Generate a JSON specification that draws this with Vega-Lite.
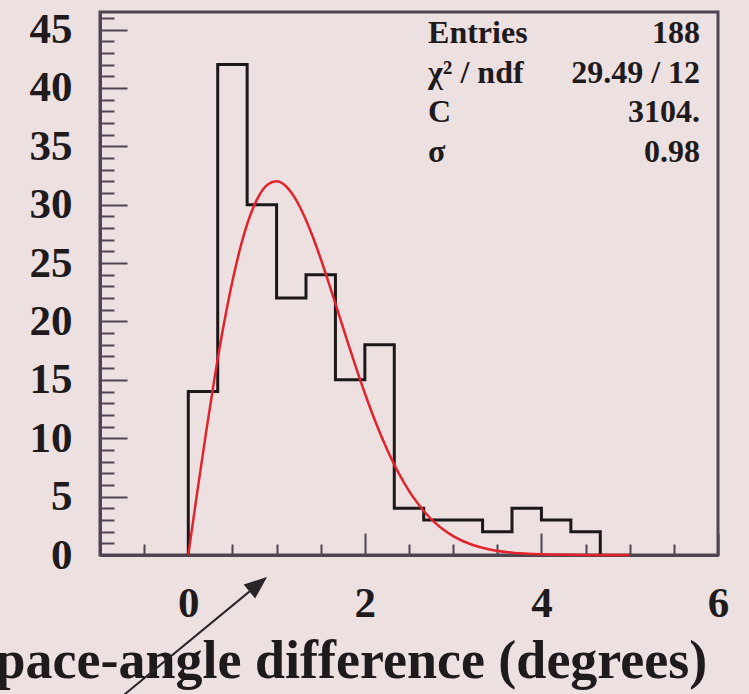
{
  "$schema": "https://vega.github.io/schema/vega-lite/v6.json",
  "width": 618,
  "height": 543,
  "autosize": {"type": "none"},
  "padding": {"left": 100, "top": 12, "right": 31, "bottom": 139},
  "background": "#ede0e1",
  "config": {
    "view": {"stroke": "#4f4550", "strokeWidth": 3},
    "axis": {
      "grid": false,
      "domainColor": "#4f4550",
      "domainWidth": 3,
      "tickColor": "#4f4550",
      "tickWidth": 2,
      "labelFont": "Liberation Serif",
      "labelFontWeight": "bold",
      "labelFontSize": 43,
      "labelColor": "#1f1a1c",
      "labelFlush": false,
      "labelOverlap": false,
      "labelBound": false,
      "titleFont": "Liberation Serif",
      "titleFontWeight": "bold",
      "titleColor": "#1f1a1c"
    }
  },
  "datasets": {
    "hist": [
      {"i": 0, "edge": 0, "count": 0},
      {"i": 1, "edge": 0, "count": 14},
      {"i": 2, "edge": 0.3333, "count": 42},
      {"i": 3, "edge": 0.6667, "count": 30},
      {"i": 4, "edge": 1.0, "count": 22},
      {"i": 5, "edge": 1.3333, "count": 24},
      {"i": 6, "edge": 1.6667, "count": 15},
      {"i": 7, "edge": 2.0, "count": 18},
      {"i": 8, "edge": 2.3333, "count": 4},
      {"i": 9, "edge": 2.6667, "count": 3},
      {"i": 10, "edge": 3.0, "count": 3},
      {"i": 11, "edge": 3.3333, "count": 2},
      {"i": 12, "edge": 3.6667, "count": 4},
      {"i": 13, "edge": 4.0, "count": 3},
      {"i": 14, "edge": 4.3333, "count": 2},
      {"i": 15, "edge": 4.6667, "count": 2},
      {"i": 16, "edge": 4.6667, "count": 0}
    ],
    "fit": [
      {"x": 0, "f": 0},
      {"x": 0.05, "f": 2.66},
      {"x": 0.1, "f": 5.3},
      {"x": 0.2, "f": 10.44},
      {"x": 0.3, "f": 15.27},
      {"x": 0.4, "f": 19.65},
      {"x": 0.5, "f": 23.45},
      {"x": 0.6, "f": 26.61},
      {"x": 0.7, "f": 29.05},
      {"x": 0.8, "f": 30.76},
      {"x": 0.9, "f": 31.73},
      {"x": 1.0, "f": 32.0},
      {"x": 1.1, "f": 31.62},
      {"x": 1.2, "f": 30.67},
      {"x": 1.3, "f": 29.25},
      {"x": 1.4, "f": 27.45},
      {"x": 1.5, "f": 25.37},
      {"x": 1.6, "f": 23.1},
      {"x": 1.7, "f": 20.74},
      {"x": 1.8, "f": 18.36},
      {"x": 1.9, "f": 16.05},
      {"x": 2.0, "f": 13.85},
      {"x": 2.1, "f": 11.8},
      {"x": 2.2, "f": 9.93},
      {"x": 2.3, "f": 8.25},
      {"x": 2.4, "f": 6.77},
      {"x": 2.5, "f": 5.49},
      {"x": 2.6, "f": 4.4},
      {"x": 2.7, "f": 3.49},
      {"x": 2.8, "f": 2.73},
      {"x": 2.9, "f": 2.12},
      {"x": 3.0, "f": 1.62},
      {"x": 3.2, "f": 0.92},
      {"x": 3.4, "f": 0.5},
      {"x": 3.6, "f": 0.26},
      {"x": 3.8, "f": 0.13},
      {"x": 4.0, "f": 0.06},
      {"x": 4.5, "f": 0.01},
      {"x": 5.0, "f": 0.0}
    ],
    "arrow": [
      {"x": -0.78, "y": -12.3, "xEnd": 0.787, "yEnd": -2.54}
    ],
    "stats": [
      {"row": 0, "name": "Entries", "value": "188"},
      {"row": 1, "name": "χ² / ndf", "value": "29.49 / 12"},
      {"row": 2, "name": "C", "value": "3104."},
      {"row": 3, "name": "σ", "value": "0.98"}
    ]
  },
  "layer": [
    {
      "layer": [
        {
          "data": {"name": "hist"},
          "mark": {"type": "line", "interpolate": "step-after", "color": "#1c1719", "strokeWidth": 3},
          "encoding": {
            "x": {
              "field": "edge", "type": "quantitative",
              "scale": {"domain": [-1, 6], "nice": false, "zero": false},
              "axis": {
                "orient": "bottom",
                "values": [0, 2, 4, 6],
                "tickSize": -22,
                "labelPadding": 83,
                "labelBaseline": "alphabetic",
                "title": "space-angle difference (degrees)",
                "titleFontSize": 54,
                "titleAlign": "left",
                "titleBaseline": "alphabetic",
                "titleX": -126,
                "titleY": 122
              }
            },
            "y": {
              "field": "count", "type": "quantitative",
              "scale": {"domain": [0, 46.5], "nice": false, "zero": false},
              "axis": {
                "orient": "left",
                "values": [0, 5, 10, 15, 20, 25, 30, 35, 40, 45],
                "tickSize": -27,
                "labelPadding": 55,
                "labelBaseline": "middle",
                "title": null
              }
            },
            "order": {"field": "i", "type": "quantitative"}
          }
        },
        {
          "data": {"name": "fit"},
          "mark": {"type": "line", "interpolate": "monotone", "color": "#e3232b", "strokeWidth": 2.5},
          "encoding": {
            "x": {
              "field": "x", "type": "quantitative",
              "scale": {"domain": [-1, 6], "nice": false, "zero": false},
              "axis": {
                "orient": "bottom",
                "values": [-0.5, 0.5, 1, 1.5, 2.5, 3, 3.5, 4.5, 5, 5.5],
                "tickSize": -11,
                "labels": false,
                "domain": false,
                "title": null
              }
            },
            "y": {
              "field": "f", "type": "quantitative",
              "scale": {"domain": [0, 46.5], "nice": false, "zero": false},
              "axis": {
                "orient": "left",
                "values": [1, 2, 3, 4, 6, 7, 8, 9, 11, 12, 13, 14, 16, 17, 18, 19, 21, 22, 23, 24, 26, 27, 28, 29, 31, 32, 33, 34, 36, 37, 38, 39, 41, 42, 43, 44, 46],
                "tickSize": -14,
                "labels": false,
                "domain": false,
                "title": null
              }
            }
          }
        },
        {
          "data": {"name": "arrow"},
          "mark": {"type": "rule", "color": "#2a2428", "strokeWidth": 2},
          "encoding": {
            "x": {"field": "x", "type": "quantitative", "scale": {"domain": [-1, 6], "nice": false, "zero": false}, "axis": null},
            "y": {"field": "y", "type": "quantitative", "scale": {"domain": [0, 46.5], "nice": false, "zero": false}, "axis": null},
            "x2": {"field": "xEnd"},
            "y2": {"field": "yEnd"}
          }
        },
        {
          "data": {"name": "arrow"},
          "mark": {"type": "point", "shape": "M0,-1L0.75,0.9L-0.75,0.9Z", "filled": true, "opacity": 1, "color": "#2a2428", "size": 576, "angle": 50.5},
          "encoding": {
            "x": {"field": "xEnd", "type": "quantitative", "scale": {"domain": [-1, 6], "nice": false, "zero": false}, "axis": null},
            "y": {"field": "yEnd", "type": "quantitative", "scale": {"domain": [0, 46.5], "nice": false, "zero": false}, "axis": null}
          }
        }
      ],
      "resolve": {"axis": {"x": "independent", "y": "independent"}}
    },
    {
      "data": {"name": "stats"},
      "layer": [
        {
          "mark": {"type": "text", "align": "left", "baseline": "alphabetic", "font": "Liberation Serif", "fontWeight": "bold", "fontSize": 32, "color": "#1f1a1c"},
          "encoding": {
            "x": {"datum": 2.716, "type": "quantitative", "scale": {"domain": [-1, 6], "nice": false, "zero": false}, "axis": null},
            "y": {"field": "row", "type": "quantitative", "scale": {"domain": [-0.78, 12.91], "reverse": true, "nice": false, "zero": false}, "axis": null},
            "text": {"field": "name"}
          }
        },
        {
          "mark": {"type": "text", "align": "right", "baseline": "alphabetic", "font": "Liberation Serif", "fontWeight": "bold", "fontSize": 32, "color": "#1f1a1c"},
          "encoding": {
            "x": {"datum": 5.797, "type": "quantitative", "scale": {"domain": [-1, 6], "nice": false, "zero": false}, "axis": null},
            "y": {"field": "row", "type": "quantitative", "scale": {"domain": [-0.78, 12.91], "reverse": true, "nice": false, "zero": false}, "axis": null},
            "text": {"field": "value"}
          }
        }
      ]
    }
  ],
  "resolve": {"scale": {"y": "independent"}}
}
